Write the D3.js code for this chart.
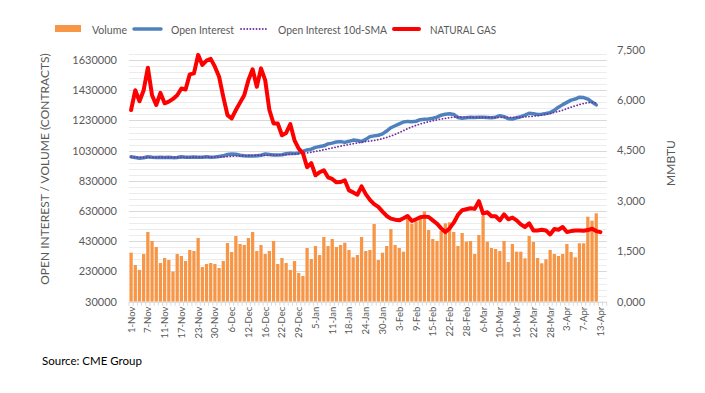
<!DOCTYPE html>
<meta charset="utf-8" />
<html lang="en">
  <head>
    <script src="https://d3js.org/d3.v7.min.js"></script>
    <style>
      body { margin: 0; background: #fff; }
      svg text { font-family: Lato, "Open Sans", sans-serif; fill: #595959; }
      .grid-major line { stroke: #d9d9d9; stroke-width: 1px; }
      .grid-minor line { stroke: #ececec; stroke-width: 1px; }
    </style>
  </head>
  <body>
    <svg width="705" height="393"></svg>
    <script>
      // trading days shown on the category axis (Nov 2022 - Apr 2023)
      var monthDays = [
        ["Nov", [1,2,3,4,7,8,9,10,11,14,15,16,17,18,21,22,23,25,28,29,30]],
        ["Dec", [1,2,5,6,7,8,9,12,13,14,15,16,19,20,21,22,23,27,28,29,30]],
        ["Jan", [3,4,5,6,9,10,11,12,13,17,18,19,20,23,24,25,26,27,30,31]],
        ["Feb", [1,2,3,6,7,8,9,10,13,14,15,16,17,21,22,23,24,27,28]],
        ["Mar", [1,2,3,6,7,8,9,10,13,14,15,16,17,20,21,22,23,24,27,28,29,30,31]],
        ["Apr", [3,4,5,6,7,10,11,12,13,14]]
      ];
      var dates = [];
      monthDays.forEach(function(m) {
        m[1].forEach(function(d) { dates.push(d + "-" + m[0]); });
      });

      var volume = [
        354600, 272900, 239800, 345700, 491500, 431900, 392100, 286100, 319200, 306000,
        228700, 345700, 332500, 299400, 372200, 365600, 451700, 259600, 279500, 286100,
        279500, 253000, 299400, 418600, 359000, 465000, 412000, 405400, 451700, 491500,
        365600, 405400, 345700, 365600, 431900, 279500, 319200, 286100, 239800, 299400,
        219900, 200000, 385500, 312600, 398700, 339100, 458400, 398700, 445100, 392100,
        405400, 420800, 372200, 323700, 339100, 458400, 365600, 372200, 544500, 306000,
        354600, 398700, 511300, 405400, 385500, 361200, 579800, 546700, 559900, 579800,
        628400, 504700, 445100, 431900, 498100, 548900, 555500, 491500, 398700, 484800,
        427400, 431900, 345700, 471600, 597500, 427400, 385500, 378900, 365600, 431900,
        292800, 412000, 361200, 361200, 317000, 465000, 425200, 319200, 284300, 310800,
        372400, 345900, 332600, 345900, 412100, 359100, 324000, 416800, 416800, 592900,
        566400, 615400
      ];

      var openInterest = [
        990000, 985000, 980000, 983000, 990000, 987000, 985000, 986000, 985000, 986000,
        984000, 985000, 990000, 987000, 986000, 988000, 986000, 987000, 990000, 987000,
        988000, 992000, 996000, 1005000, 1008000, 1006000, 1000000, 996000, 995000, 994000,
        997000, 1000000, 1008000, 1005000, 1002000, 1001000, 1003000, 1010000, 1013000, 1012000,
        1015000, 1025000, 1035000, 1040000, 1052000, 1058000, 1062000, 1075000, 1080000, 1088000,
        1090000, 1085000, 1092000, 1100000, 1097000, 1090000, 1105000, 1123000, 1128000, 1132000,
        1141000, 1160000, 1182000, 1195000, 1208000, 1220000, 1224000, 1222000, 1225000, 1235000,
        1238000, 1240000, 1245000, 1252000, 1265000, 1272000, 1274000, 1270000, 1250000, 1245000,
        1248000, 1251000, 1250000, 1252000, 1251000, 1250000, 1248000, 1252000, 1262000, 1255000,
        1242000, 1240000, 1248000, 1255000, 1265000, 1278000, 1274000, 1270000, 1272000, 1276000,
        1282000, 1298000, 1318000, 1335000, 1350000, 1365000, 1372000, 1384000, 1382000, 1372000,
        1352000, 1333000
      ];

      var oiSma10 = [
        986000, 986000, 985000, 985000, 985000, 986000, 986000, 986000, 985000, 985000,
        985000, 985000, 986000, 986000, 986000, 987000, 987000, 987000, 987000, 987000,
        988000, 988000, 989000, 991000, 993000, 995000, 996000, 997000, 998000, 999000,
        1000000, 1000000, 999000, 1000000, 1001000, 1002000, 1003000, 1004000, 1006000, 1008000,
        1010000, 1012000, 1015000, 1020000, 1025000, 1030000, 1036000, 1042000, 1048000, 1054000,
        1060000, 1066000, 1071000, 1076000, 1081000, 1086000, 1090000, 1094000, 1098000, 1103000,
        1110000, 1118000, 1127000, 1138000, 1150000, 1163000, 1176000, 1188000, 1198000, 1207000,
        1215000, 1222000, 1228000, 1234000, 1239000, 1244000, 1249000, 1252000, 1253000, 1253000,
        1252000, 1251000, 1251000, 1251000, 1251000, 1250000, 1250000, 1250000, 1251000, 1251000,
        1251000, 1250000, 1250000, 1251000, 1254000, 1256000, 1258000, 1262000, 1266000, 1270000,
        1276000, 1283000, 1290000, 1298000, 1308000, 1318000, 1327000, 1335000, 1343000, 1348000,
        1350000, 1345000
      ];

      var naturalGas = [
        5.70, 6.29, 5.96, 6.29, 6.96, 6.14, 5.85, 6.21, 5.90, 5.95,
        6.03, 6.14, 6.34, 6.31, 6.76, 6.79, 7.34, 7.04, 7.17, 7.22,
        6.99, 6.69, 6.09, 5.55, 5.45, 5.70, 5.92, 6.14, 6.59, 6.91,
        6.39, 6.94, 6.59, 5.70, 5.30, 5.30, 4.95, 5.02, 5.28, 4.80,
        4.55, 4.42, 4.00, 4.12, 3.76, 3.85, 3.91, 3.70, 3.65, 3.55,
        3.56, 3.61, 3.31, 3.25, 3.18, 3.43, 3.20, 3.03, 2.90, 2.82,
        2.68, 2.55, 2.47, 2.44, 2.42, 2.48, 2.55, 2.40, 2.45, 2.51,
        2.53, 2.52, 2.42, 2.32, 2.18, 2.07, 2.18, 2.35, 2.58, 2.72,
        2.75, 2.78, 2.76, 2.99, 2.62, 2.66, 2.54, 2.54, 2.42, 2.60,
        2.45, 2.50, 2.42, 2.30, 2.22, 2.33, 2.12, 2.12, 2.14, 2.12,
        2.00, 2.16, 2.14, 2.22, 2.07, 2.10, 2.12, 2.12, 2.11, 2.13,
        2.17, 2.10, 2.07
      ];

      var leftTicks = [30000, 230000, 430000, 630000, 830000, 1030000, 1230000, 1430000, 1630000];
      var rightTicks = [0, 1.5, 3, 4.5, 6, 7.5];

      var svg = d3.select("svg");
      var pL = 129, pR = 606.7, pT = 49.5, pB = 301.7;

      var x = d3.scaleBand()
        .domain(dates)
        .range([pL, pR])
        .paddingInner(0.22)
        .paddingOuter(0.11);
      var step = x.step();
      var cx = function(i) { return x(dates[i]) + x.bandwidth() / 2; };

      var yL = d3.scaleLinear().domain([30000, 1700000]).range([pB, pT]);
      var yR = d3.scaleLinear().domain([0, 7.5]).range([pB, pT]);

      // gridlines
      var minor = d3.range(30000, 1700000, 40000);
      svg.append("g").attr("class", "grid-minor")
        .selectAll("line").data(minor).enter().append("line")
        .attr("x1", pL).attr("x2", pR)
        .attr("y1", function(d) { return Math.round(yL(d)) + 0.5; })
        .attr("y2", function(d) { return Math.round(yL(d)) + 0.5; });
      svg.append("g").attr("class", "grid-major")
        .selectAll("line").data(leftTicks.slice(1)).enter().append("line")
        .attr("x1", pL).attr("x2", pR)
        .attr("y1", function(d) { return Math.round(yL(d)) + 0.5; })
        .attr("y2", function(d) { return Math.round(yL(d)) + 0.5; });

      // volume bars
      svg.append("g").selectAll("rect").data(volume).enter().append("rect")
        .attr("x", function(d, i) { return x(dates[i]); })
        .attr("width", x.bandwidth())
        .attr("y", function(d) { return yL(d); })
        .attr("height", function(d) { return yL(30000) - yL(d); })
        .attr("fill", "#f79646");

      // category axis
      var xAxis = svg.append("g");
      xAxis.append("line")
        .attr("x1", pL).attr("x2", pR)
        .attr("y1", pB + 0.5).attr("y2", pB + 0.5)
        .attr("stroke", "#d9d9d9");
      xAxis.selectAll(".tk").data(d3.range(dates.length + 1)).enter().append("line")
        .attr("x1", function(i) { return pL + i * step; })
        .attr("x2", function(i) { return pL + i * step; })
        .attr("y1", pB).attr("y2", pB + 4)
        .attr("stroke", "#d9d9d9");
      xAxis.selectAll("text")
        .data(dates.filter(function(d, i) { return i % 4 === 0 && i < 113; }))
        .enter().append("text")
        .attr("transform", function(d) {
          return "translate(" + (x(d) + x.bandwidth() / 2 + 3.5) + "," + (pB + 5) + ") rotate(-90)";
        })
        .attr("text-anchor", "end")
        .style("font-size", "9.5px")
        .text(function(d) { return d; });

      // left axis labels
      svg.append("g").selectAll("text").data(leftTicks).enter().append("text")
        .attr("x", 117).attr("y", function(d) { return yL(d) + 4; })
        .attr("text-anchor", "end")
        .style("font-size", "11px")
        .text(function(d) { return d; });

      // right axis labels
      var fmt = d3.format(".3f");
      svg.append("g").selectAll("text").data(rightTicks).enter().append("text")
        .attr("x", 617).attr("y", function(d) { return yR(d) + 4; })
        .style("font-size", "11px")
        .text(function(d) { return fmt(d).replace(".", ","); });

      // axis titles
      svg.append("text")
        .attr("transform", "translate(49,169) rotate(-90)")
        .attr("text-anchor", "middle")
        .style("font-size", "12px")
        .text("OPEN INTEREST / VOLUME (CONTRACTS)");
      svg.append("text")
        .attr("transform", "translate(675,163) rotate(-90)")
        .attr("text-anchor", "middle")
        .style("font-size", "12px")
        .text("MMBTU");

      // lines
      var lineL = d3.line()
        .x(function(d, i) { return cx(i); })
        .y(function(d) { return yL(d); });
      var lineR = d3.line()
        .x(function(d, i) { return cx(i); })
        .y(function(d) { return yR(d); });

      svg.append("path").datum(openInterest)
        .attr("d", lineL)
        .attr("fill", "none")
        .attr("stroke", "#4f81bd")
        .attr("stroke-width", 3.5)
        .attr("stroke-linejoin", "round")
        .attr("stroke-linecap", "round");
      svg.append("path").datum(oiSma10)
        .attr("d", lineL)
        .attr("fill", "none")
        .attr("stroke", "#7030a0")
        .attr("stroke-width", 1.8)
        .attr("stroke-dasharray", "0.1,3")
        .attr("stroke-linecap", "round");
      svg.append("path").datum(naturalGas)
        .attr("d", lineR)
        .attr("fill", "none")
        .attr("stroke", "#ff0000")
        .attr("stroke-width", 4)
        .attr("stroke-linejoin", "round")
        .attr("stroke-linecap", "round");

      // legend
      var legend = svg.append("g").style("font-size", "12px");
      legend.append("rect").attr("x", 55).attr("y", 25).attr("width", 26).attr("height", 7).attr("fill", "#f79646");
      legend.append("text").attr("x", 92).attr("y", 33.5)
        .attr("textLength", 35).attr("lengthAdjust", "spacingAndGlyphs").text("Volume");
      legend.append("line").attr("x1", 134).attr("x2", 161).attr("y1", 29).attr("y2", 29)
        .attr("stroke", "#4f81bd").attr("stroke-width", 3.5).attr("stroke-linecap", "round");
      legend.append("text").attr("x", 171).attr("y", 33.5)
        .attr("textLength", 63).attr("lengthAdjust", "spacingAndGlyphs").text("Open Interest");
      legend.append("line").attr("x1", 241).attr("x2", 267).attr("y1", 29).attr("y2", 29)
        .attr("stroke", "#7030a0").attr("stroke-width", 1.8)
        .attr("stroke-dasharray", "0.1,3").attr("stroke-linecap", "round");
      legend.append("text").attr("x", 278).attr("y", 33.5)
        .attr("textLength", 109).attr("lengthAdjust", "spacingAndGlyphs").text("Open Interest 10d-SMA");
      legend.append("line").attr("x1", 394).attr("x2", 419).attr("y1", 29).attr("y2", 29)
        .attr("stroke", "#ff0000").attr("stroke-width", 4).attr("stroke-linecap", "round");
      legend.append("text").attr("x", 430).attr("y", 33.5)
        .attr("textLength", 66).attr("lengthAdjust", "spacingAndGlyphs").text("NATURAL GAS");

      svg.append("text")
        .attr("x", 42).attr("y", 365)
        .style("font-size", "11.5px")
        .style("fill", "#000")
        .text("Source: CME Group");
    </script>
  </body>
</html>
